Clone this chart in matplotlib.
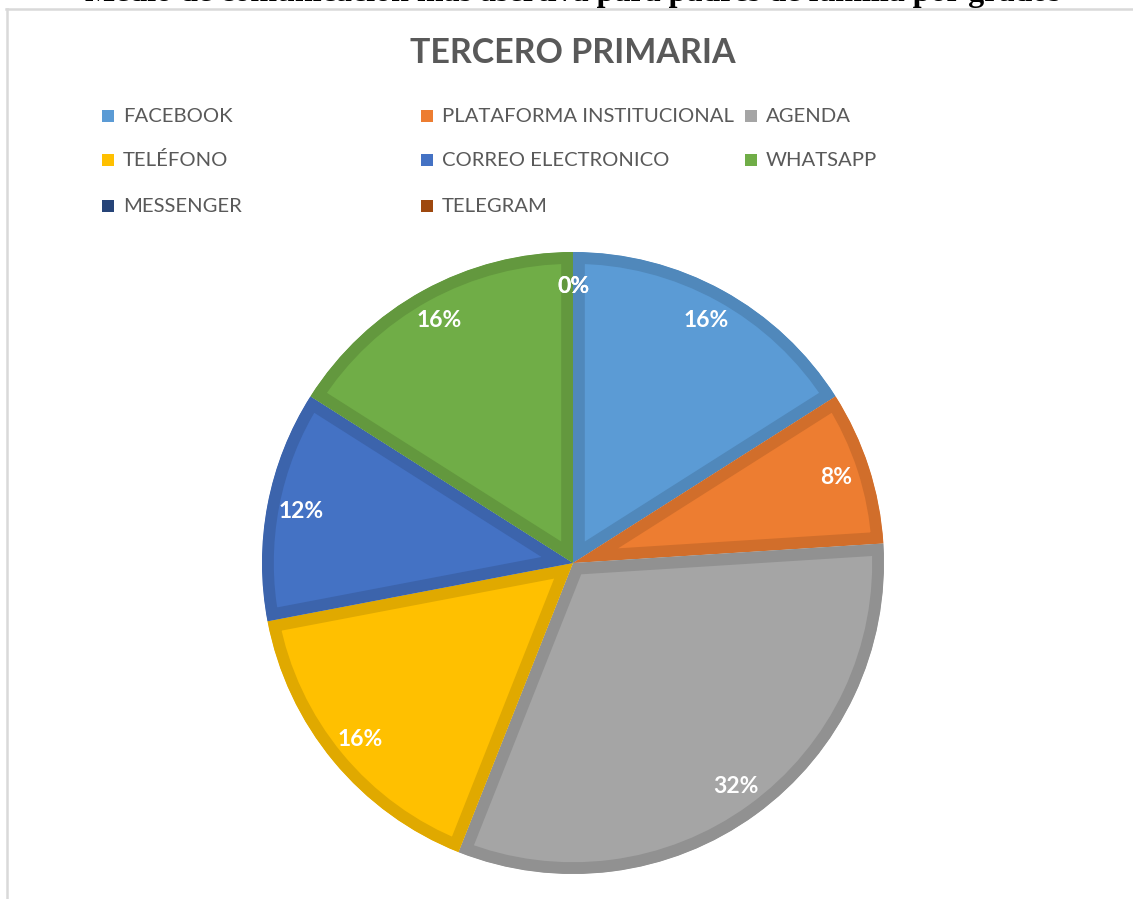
import numpy as np
import matplotlib
matplotlib.use('Agg')
import matplotlib.pyplot as plt
from matplotlib.colors import to_rgb
from matplotlib.patches import Rectangle
from matplotlib.lines import Line2D

# datos del grafico
categorias = ['FACEBOOK', 'PLATAFORMA INSTITUCIONAL', 'AGENDA', 'TELÉFONO',
              'CORREO ELECTRONICO', 'WHATSAPP', 'MESSENGER', 'TELEGRAM']
porcentajes = [16, 8, 32, 16, 12, 16, 0, 0]
colores = ['#5B9BD5', '#ED7D31', '#A5A5A5', '#FFC000',
           '#4472C4', '#70AD47', '#264478', '#9E480E']
titulo = 'TERCERO PRIMARIA'
encabezado = 'Medio de comunicación más asertiva para padres de familia por grados'

W, H = 1133, 899
fig = plt.figure(figsize=(W / 100, H / 100), dpi=100)
plt.rcParams['font.family'] = ['Lato', 'DejaVu Sans']


def oscuro(c, f=0.88):
    return tuple(v * f for v in to_rgb(c))


# encabezado cortado arriba
fig.text(573 / W, 1 - 1.5 / H, encabezado, ha='center', va='baseline',
         fontsize=23, fontweight='bold', family='Liberation Serif', color='black')

# marco gris del grafico
fig.add_artist(Line2D([6 / W, 1], [1 - 8.5 / H, 1 - 8.5 / H], color='#D9D9D9', lw=1.8))
fig.add_artist(Line2D([7 / W, 7 / W], [1 - 8.5 / H, 0], color='#D9D9D9', lw=1.8))

# titulo
fig.text(573 / W, 1 - 53 / H, titulo, ha='center', va='center',
         fontsize=24.5, fontweight='bold', color='#595959')

# leyenda manual en 3 columnas
col_x = [102, 421, 745]
fila_y = [116, 160, 206]
for i, (cat, c) in enumerate(zip(categorias, colores)):
    x = col_x[i % 3]
    y = fila_y[i // 3]
    fig.add_artist(Rectangle((x / W, 1 - (y + 6) / H), 12 / W, 12 / H,
                             transform=fig.transFigure, facecolor=c, edgecolor='none'))
    fig.text((x + 21) / W, 1 - y / H, cat, ha='left', va='center',
             fontsize=14.6, color='#595959')

# pastel
cx, cy, r = 573, 563, 311
ax = fig.add_axes([(cx - r) / W, (H - cy - r) / H, 2 * r / W, 2 * r / H])
wedges, textos, autotextos = ax.pie(
    porcentajes, colors=colores, startangle=90, counterclock=False,
    autopct='%1.0f%%', pctdistance=0.89,
    textprops=dict(color='white', fontsize=16.5, fontweight='bold'))
for w, c, v in zip(wedges, colores, porcentajes):
    w.set_edgecolor(oscuro(c))
    w.set_linewidth(17 if v > 0 else 0)
    w.set_clip_on(True)
    w.set_clip_path(w)
for t in textos:
    t.set_text('')
ax.set_xlim(-1, 1)
ax.set_ylim(-1, 1)
ax.axis('off')

fig.savefig('out.png', dpi=100)
